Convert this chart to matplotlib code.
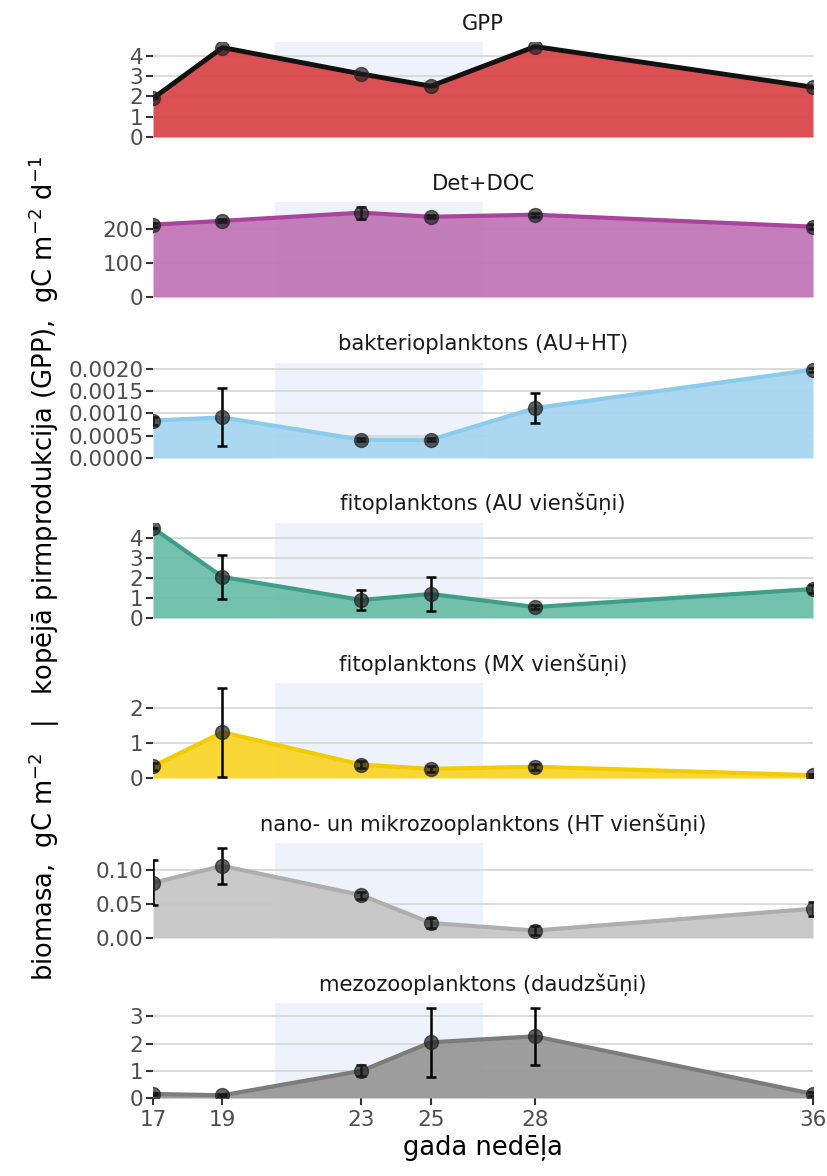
import numpy as np
import matplotlib
matplotlib.use("Agg")
import matplotlib.pyplot as plt
from matplotlib.ticker import FormatStrFormatter

plt.rcParams['font.family'] = ['DejaVu Sans']

weeks = [17, 19, 23, 25, 28, 36]

titles = ["GPP", "Det+DOC", "bakterioplanktons (AU+HT)",
          "fitoplanktons (AU vienšūņi)", "fitoplanktons (MX vienšūņi)",
          "nano- un mikrozooplanktons (HT vienšūņi)", "mezozooplanktons (daudzšūņi)"]

gpp = [1.9, 4.4, 3.1, 2.5, 4.45, 2.45]
gpp_err = [0, 0, 0, 0, 0, 0]
det = [212, 223, 247, 235, 241, 206]
det_err = [6, 4, 18, 5, 6, 8]
bakt = [0.00084, 0.00091, 0.00041, 0.00041, 0.00112, 0.00198]
bakt_err = [0.00009, 0.00065, 0.00003, 0.00003, 0.00033, 0.00005]
fito_au = [4.5, 2.05, 0.9, 1.2, 0.55, 1.45]
fito_au_err = [0.02, 1.1, 0.5, 0.85, 0.12, 0.2]
fito_mx = [0.33, 1.3, 0.38, 0.26, 0.32, 0.08]
fito_mx_err = [0.1, 1.27, 0.1, 0.08, 0.08, 0.04]
nano = [0.081, 0.106, 0.063, 0.022, 0.011, 0.043]
nano_err = [0.033, 0.027, 0.005, 0.007, 0.006, 0.01]
mezo = [0.15, 0.1, 1.0, 2.05, 2.27, 0.15]
mezo_err = [0.05, 0.03, 0.2, 1.28, 1.06, 0.06]

values = [gpp, det, bakt, fito_au, fito_mx, nano, mezo]
errors = [gpp_err, det_err, bakt_err, fito_au_err, fito_mx_err, nano_err, mezo_err]

yticks = [[0, 1, 2, 3, 4], [0, 100, 200], [0, 0.0005, 0.001, 0.0015, 0.002],
          [0, 1, 2, 3, 4], [0, 1, 2], [0, 0.05, 0.10], [0, 1, 2, 3]]
yfmt = ["%d", "%d", "%.4f", "%d", "%d", "%.2f", "%d"]

fill_cols = ["#D9474A", "#C077B8", "#A7D5F0", "#6CBFA9", "#F8D52C", "#C6C6C6", "#999999"]
line_cols = ["#111111", "#A8449C", "#8BCBEB", "#3E9E87", "#F2CC00", "#AEAEAE", "#7C7C7C"]

shade = (20.5, 26.5)

fig = plt.figure(figsize=(8.28, 11.76), dpi=100)
W, H = 828, 1176
tops = [42, 202, 363, 523, 683, 843, 1003]
ph = 95
left, right = 153, 813

for i in range(7):
    ax = fig.add_axes([left / W, 1 - (tops[i] + ph) / H, (right - left) / W, ph / H])
    v = np.array(values[i])
    e = np.array(errors[i])
    ax.axvspan(shade[0], shade[1], color="#EDF2FB", zorder=0, lw=0)
    ax.fill_between(weeks, 0, v, color=fill_cols[i], alpha=0.95, lw=0, zorder=2)
    ax.plot(weeks, v, color=line_cols[i], lw=3.5 if i == 0 else 3, zorder=3,
            solid_joinstyle='round')
    ax.errorbar(weeks, v, yerr=e, fmt='none', ecolor='black', elinewidth=1.8,
                capsize=3.5, capthick=1.8, zorder=4)
    ax.plot(weeks, v, 'o', color='#222222', alpha=0.7, ms=10, zorder=5)
    ax.set_xlim(17, 36)
    ax.set_ylim(0, max(v + e) * 1.05)
    ax.set_yticks(yticks[i])
    ax.yaxis.set_major_formatter(FormatStrFormatter(yfmt[i]))
    ax.grid(axis='y', color='#D4D4D4', lw=1.2, zorder=1)
    ax.set_axisbelow(True)
    for s in ax.spines.values():
        s.set_visible(False)
    ax.tick_params(axis='y', length=5, width=1.5, color='#333333',
                   labelsize=15.5, labelcolor='#4D4D4D', pad=2)
    ax.set_title(titles[i], fontsize=15.2, color='#1A1A1A', pad=9)
    if i == 6:
        ax.set_xticks(weeks)
        ax.tick_params(axis='x', length=5, width=1.5, color='#333333',
                       labelsize=15.5, labelcolor='#4D4D4D', pad=4)
        ax.set_xlabel("gada nedēļa", fontsize=18.5, labelpad=3)
    else:
        ax.set_xticks([])

fig.text(0.054, 1 - 568 / H,
         r"biomasa,  gC m$^{-2}$   |   kopējā pirmprodukcija (GPP),  gC m$^{-2}$ d$^{-1}$",
         rotation=90, va='center', ha='center', fontsize=18.5)

plt.savefig("out.png", dpi=100)
